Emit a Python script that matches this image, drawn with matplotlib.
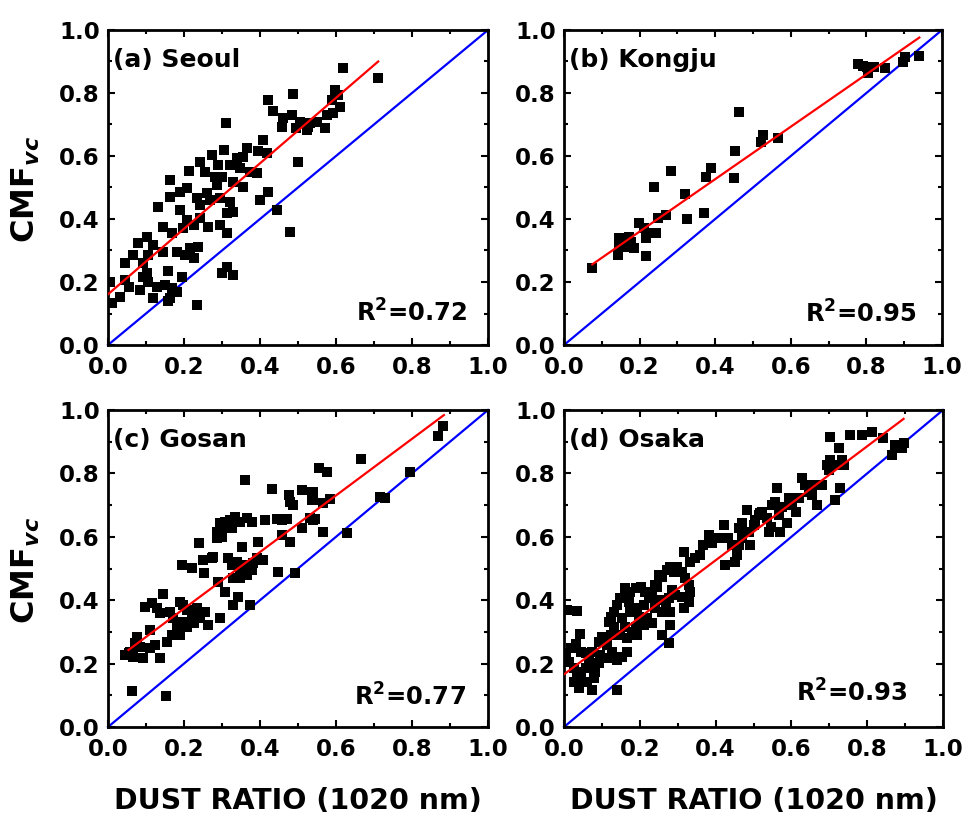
import matplotlib
matplotlib.use('Agg')
import matplotlib.pyplot as plt
from matplotlib.ticker import MultipleLocator

plt.rcParams['font.family'] = ['DejaVu Sans']
plt.rcParams['font.weight'] = 'bold'
plt.rcParams['mathtext.fontset'] = 'custom'
plt.rcParams['mathtext.rm'] = 'DejaVu Sans:bold'
plt.rcParams['mathtext.bf'] = 'DejaVu Sans:bold'
plt.rcParams['mathtext.it'] = 'DejaVu Sans:bold:italic'

# (a) Seoul
seoul_x = [0.422, 0.488, 0.433, 0.311, 0.461, 0.483, 0.505, 0.532, 0.457, 0.496, 0.523,
           0.409, 0.501, 0.273, 0.304, 0.365, 0.356, 0.339, 0.396, 0.418, 0.242, 0.255,
           0.290, 0.282, 0.321, 0.347, 0.374, 0.391, 0.214, 0.163, 0.189, 0.207, 0.260,
           0.286, 0.299, 0.330, 0.356, 0.163, 0.400, 0.422, 0.132, 0.189, 0.233, 0.242,
           0.268, 0.295, 0.321, 0.312, 0.330, 0.444, 0.207, 0.225, 0.242, 0.264, 0.295,
           0.312, 0.146, 0.168, 0.198, 0.479, 0.102, 0.080, 0.119, 0.146, 0.106, 0.093,
           0.067, 0.045, 0.181, 0.203, 0.225, 0.216, 0.238, 0.159, 0.194, 0.299, 0.312,
           0.330, 0.005, 0.045, 0.054, 0.084, 0.102, 0.106, 0.093, 0.128, 0.150, 0.168,
           0.181, 0.163, 0.032, 0.119, 0.159, 0.233, 0.010, 0.619, 0.711, 0.597, 0.606,
           0.589, 0.611, 0.593, 0.576, 0.571, 0.549, 0.527]
seoul_y = [0.778, 0.797, 0.743, 0.706, 0.720, 0.730, 0.709, 0.704, 0.693, 0.688, 0.683,
           0.651, 0.582, 0.603, 0.619, 0.624, 0.598, 0.593, 0.616, 0.608, 0.582, 0.550,
           0.571, 0.534, 0.571, 0.561, 0.550, 0.545, 0.553, 0.524, 0.487, 0.497, 0.481,
           0.508, 0.534, 0.519, 0.503, 0.471, 0.460, 0.487, 0.439, 0.429, 0.466, 0.444,
           0.460, 0.466, 0.455, 0.418, 0.423, 0.429, 0.397, 0.381, 0.402, 0.376, 0.381,
           0.354, 0.376, 0.354, 0.370, 0.360, 0.344, 0.323, 0.317, 0.296, 0.286, 0.259,
           0.286, 0.259, 0.296, 0.286, 0.275, 0.307, 0.312, 0.235, 0.217, 0.228, 0.249,
           0.222, 0.201, 0.206, 0.185, 0.175, 0.228, 0.201, 0.217, 0.185, 0.190, 0.180,
           0.169, 0.148, 0.153, 0.148, 0.140, 0.127, 0.132, 0.878, 0.849, 0.810, 0.794,
           0.778, 0.757, 0.735, 0.730, 0.688, 0.709, 0.693]

# (b) Kongju
kongju_x = [0.075, 0.142, 0.146, 0.146, 0.164, 0.173, 0.186, 0.177, 0.199, 0.212, 0.217,
            0.217, 0.230, 0.243, 0.239, 0.248, 0.270, 0.283, 0.321, 0.326, 0.370, 0.376,
            0.389, 0.449, 0.453, 0.463, 0.520, 0.527, 0.566, 0.779, 0.792, 0.801, 0.805,
            0.819, 0.850, 0.898, 0.903, 0.938]
kongju_y = [0.245, 0.286, 0.317, 0.339, 0.312, 0.344, 0.309, 0.328, 0.386, 0.370, 0.339,
            0.283, 0.354, 0.354, 0.503, 0.404, 0.413, 0.553, 0.478, 0.399, 0.420, 0.534,
            0.561, 0.529, 0.617, 0.739, 0.643, 0.667, 0.658, 0.891, 0.887, 0.884, 0.862,
            0.884, 0.878, 0.899, 0.915, 0.918]

# (c) Gosan
gosan_x = [0.361, 0.431, 0.475, 0.479, 0.488, 0.510, 0.536, 0.540, 0.554, 0.413, 0.444,
           0.457, 0.470, 0.510, 0.540, 0.295, 0.308, 0.321, 0.334, 0.347, 0.365, 0.378,
           0.325, 0.308, 0.286, 0.286, 0.299, 0.240, 0.352, 0.394, 0.457, 0.479, 0.196,
           0.222, 0.253, 0.251, 0.273, 0.277, 0.317, 0.325, 0.339, 0.347, 0.365, 0.382,
           0.391, 0.409, 0.352, 0.365, 0.378, 0.347, 0.330, 0.448, 0.492, 0.290, 0.308,
           0.341, 0.330, 0.374, 0.146, 0.115, 0.097, 0.128, 0.137, 0.163, 0.172, 0.189,
           0.198, 0.207, 0.220, 0.233, 0.242, 0.255, 0.264, 0.225, 0.198, 0.181, 0.168,
           0.154, 0.189, 0.207, 0.295, 0.111, 0.075, 0.071, 0.058, 0.054, 0.067, 0.093,
           0.084, 0.111, 0.124, 0.137, 0.045, 0.062, 0.153, 0.882, 0.869, 0.667, 0.556,
           0.575, 0.540, 0.536, 0.567, 0.584, 0.532, 0.545, 0.567, 0.628, 0.716, 0.729,
           0.795]
gosan_y = [0.779, 0.750, 0.731, 0.710, 0.700, 0.747, 0.742, 0.716, 0.816, 0.653, 0.656,
           0.653, 0.656, 0.627, 0.653, 0.642, 0.648, 0.653, 0.664, 0.648, 0.658, 0.648,
           0.627, 0.632, 0.616, 0.595, 0.600, 0.581, 0.569, 0.583, 0.606, 0.585, 0.511,
           0.503, 0.485, 0.527, 0.532, 0.537, 0.532, 0.511, 0.522, 0.501, 0.511, 0.516,
           0.532, 0.527, 0.490, 0.480, 0.495, 0.469, 0.469, 0.490, 0.485, 0.458, 0.427,
           0.409, 0.385, 0.385, 0.419, 0.390, 0.380, 0.374, 0.359, 0.364, 0.343, 0.395,
           0.385, 0.369, 0.348, 0.374, 0.343, 0.364, 0.322, 0.327, 0.332, 0.311, 0.290,
           0.269, 0.290, 0.317, 0.343, 0.306, 0.285, 0.264, 0.238, 0.232, 0.222, 0.217,
           0.253, 0.248, 0.259, 0.217, 0.227, 0.114, 0.099, 0.951, 0.919, 0.845, 0.816,
           0.805, 0.740, 0.716, 0.706, 0.719, 0.658, 0.656, 0.616, 0.611, 0.727, 0.723,
           0.805]

# (d) Osaka
osaka_x = [0.009, 0.035, 0.041, 0.031, 0.044, 0.057, 0.018, 0.004, 0.013, 0.026, 0.035,
           0.044, 0.061, 0.075, 0.079, 0.039, 0.026, 0.057, 0.075, 0.083, 0.092, 0.096,
           0.066, 0.140, 0.075, 0.092, 0.101, 0.114, 0.123, 0.132, 0.118, 0.123, 0.140,
           0.149, 0.132, 0.154, 0.162, 0.149, 0.167, 0.180, 0.167, 0.154, 0.140, 0.118,
           0.127, 0.162, 0.175, 0.189, 0.202, 0.215, 0.232, 0.246, 0.171, 0.193, 0.211,
           0.224, 0.241, 0.250, 0.197, 0.219, 0.232, 0.211, 0.189, 0.193, 0.175, 0.259,
           0.272, 0.281, 0.289, 0.298, 0.311, 0.320, 0.329, 0.333, 0.329, 0.316, 0.311,
           0.294, 0.285, 0.276, 0.268, 0.259, 0.281, 0.250, 0.241, 0.281, 0.259, 0.276,
           0.316, 0.333, 0.346, 0.360, 0.368, 0.382, 0.382, 0.390, 0.408, 0.421, 0.425,
           0.434, 0.443, 0.456, 0.461, 0.469, 0.482, 0.487, 0.469, 0.491, 0.504, 0.518,
           0.500, 0.461, 0.452, 0.505, 0.514, 0.523, 0.536, 0.545, 0.540, 0.549, 0.562,
           0.558, 0.567, 0.575, 0.571, 0.589, 0.593, 0.602, 0.611, 0.619, 0.628, 0.637,
           0.646, 0.654, 0.659, 0.668, 0.681, 0.694, 0.703, 0.698, 0.716, 0.733, 0.716,
           0.729, 0.738, 0.725, 0.703, 0.755, 0.786, 0.812, 0.843, 0.865, 0.874, 0.891,
           0.896]
osaka_y = [0.369, 0.366, 0.293, 0.261, 0.238, 0.232, 0.250, 0.232, 0.206, 0.185, 0.175,
           0.154, 0.143, 0.117, 0.154, 0.122, 0.143, 0.185, 0.190, 0.175, 0.201, 0.227,
           0.211, 0.117, 0.238, 0.269, 0.285, 0.259, 0.290, 0.317, 0.332, 0.348, 0.385,
           0.406, 0.364, 0.343, 0.317, 0.290, 0.280, 0.301, 0.238, 0.222, 0.211, 0.217,
           0.238, 0.437, 0.427, 0.437, 0.443, 0.427, 0.422, 0.443, 0.395, 0.374, 0.385,
           0.406, 0.374, 0.401, 0.348, 0.343, 0.327, 0.322, 0.317, 0.290, 0.364, 0.474,
           0.495, 0.506, 0.490, 0.506, 0.490, 0.469, 0.448, 0.427, 0.395, 0.374, 0.411,
           0.416, 0.432, 0.406, 0.385, 0.364, 0.364, 0.479, 0.448, 0.322, 0.290, 0.264,
           0.553, 0.522, 0.532, 0.543, 0.574, 0.585, 0.606, 0.579, 0.595, 0.637, 0.511,
           0.595, 0.574, 0.543, 0.627, 0.642, 0.685, 0.616, 0.595, 0.574, 0.653, 0.674,
           0.637, 0.574, 0.522, 0.648, 0.669, 0.679, 0.658, 0.632, 0.616, 0.700, 0.753,
           0.711, 0.669, 0.695, 0.616, 0.642, 0.721, 0.700, 0.679, 0.721, 0.784, 0.763,
           0.742, 0.732, 0.763, 0.700, 0.763, 0.826, 0.842, 0.811, 0.826, 0.842, 0.716,
           0.753, 0.826, 0.879, 0.916, 0.921, 0.921, 0.932, 0.911, 0.858, 0.890, 0.879,
           0.895]

# fitted regression lines (end points)
fit_x = [[0.0, 0.711], [0.075, 0.94], [0.054, 0.884], [0.0, 0.896]]
fit_y = [[0.161, 0.900], [0.256, 0.976], [0.243, 0.984], [0.166, 0.972]]

labels = ['(a) Seoul', '(b) Kongju', '(c) Gosan', '(d) Osaka']
r2 = ['0.72', '0.95', '0.77', '0.93']
xs = [seoul_x, kongju_x, gosan_x, osaka_x]
ys = [seoul_y, kongju_y, gosan_y, osaka_y]

fig = plt.figure(figsize=(9.66, 8.18), dpi=100)
W, H = 966, 818
# axes boxes in pixels: left, top, right, bottom
boxes = [(108, 30, 488, 345), (564, 30, 942, 345),
         (108, 410, 488, 727), (564, 410, 943, 727)]
# R^2 label anchor (right edge, baseline) in axes fraction
r2_pos = [(0.947, 0.073), (0.934, 0.070), (0.942, 0.069), (0.908, 0.079)]

for i, (l, t, r, b) in enumerate(boxes):
    ax = fig.add_axes([l / W, 1 - b / H, (r - l) / W, (b - t) / H])
    ax.scatter(xs[i], ys[i], marker='s', s=42, color='black', linewidths=0, zorder=3)
    ax.plot([0, 1], [0, 1], color='#0000ff', lw=1.6, zorder=2, clip_on=False)
    ax.plot(fit_x[i], fit_y[i], color='#ff0000', lw=1.6, zorder=4)
    ax.set_xlim(0, 1)
    ax.set_ylim(0, 1)
    ax.xaxis.set_major_locator(MultipleLocator(0.2))
    ax.xaxis.set_minor_locator(MultipleLocator(0.1))
    ax.yaxis.set_major_locator(MultipleLocator(0.2))
    ax.yaxis.set_minor_locator(MultipleLocator(0.1))
    ax.tick_params(which='both', direction='in', top=True, right=True, width=1.5)
    ax.tick_params(which='major', length=5, labelsize=16.5)
    ax.tick_params(which='minor', length=3)
    ax.tick_params(axis='x', which='major', pad=8)
    ax.tick_params(axis='y', which='major', pad=6)
    for lab in ax.get_xticklabels() + ax.get_yticklabels():
        lab.set_fontweight('bold')
    for sp in ax.spines.values():
        sp.set_linewidth(2)
    ax.text(0.013, 0.883, labels[i], transform=ax.transAxes, fontsize=18,
            fontweight='bold', ha='left', va='baseline')
    ax.text(r2_pos[i][0], r2_pos[i][1], r'R$^2$=' + r2[i], transform=ax.transAxes,
            fontsize=17.5, fontweight='bold', ha='right', va='baseline')

# y labels (left column) and x labels (bottom row)
for yc in [(30 + 345) / 2 + 2, (410 + 727) / 2 + 2]:
    fig.text(26 / W, 1 - yc / H, r'CMF$_{vc}$', rotation=90, fontsize=23,
             fontweight='bold', ha='center', va='center')
for xc in [(108 + 488) / 2, (564 + 943) / 2]:
    fig.text(xc / W, 1 - 809 / H, 'DUST RATIO (1020 nm)', fontsize=20.5,
             fontweight='bold', ha='center', va='baseline')

fig.savefig('out.png', dpi=100, facecolor='white')
